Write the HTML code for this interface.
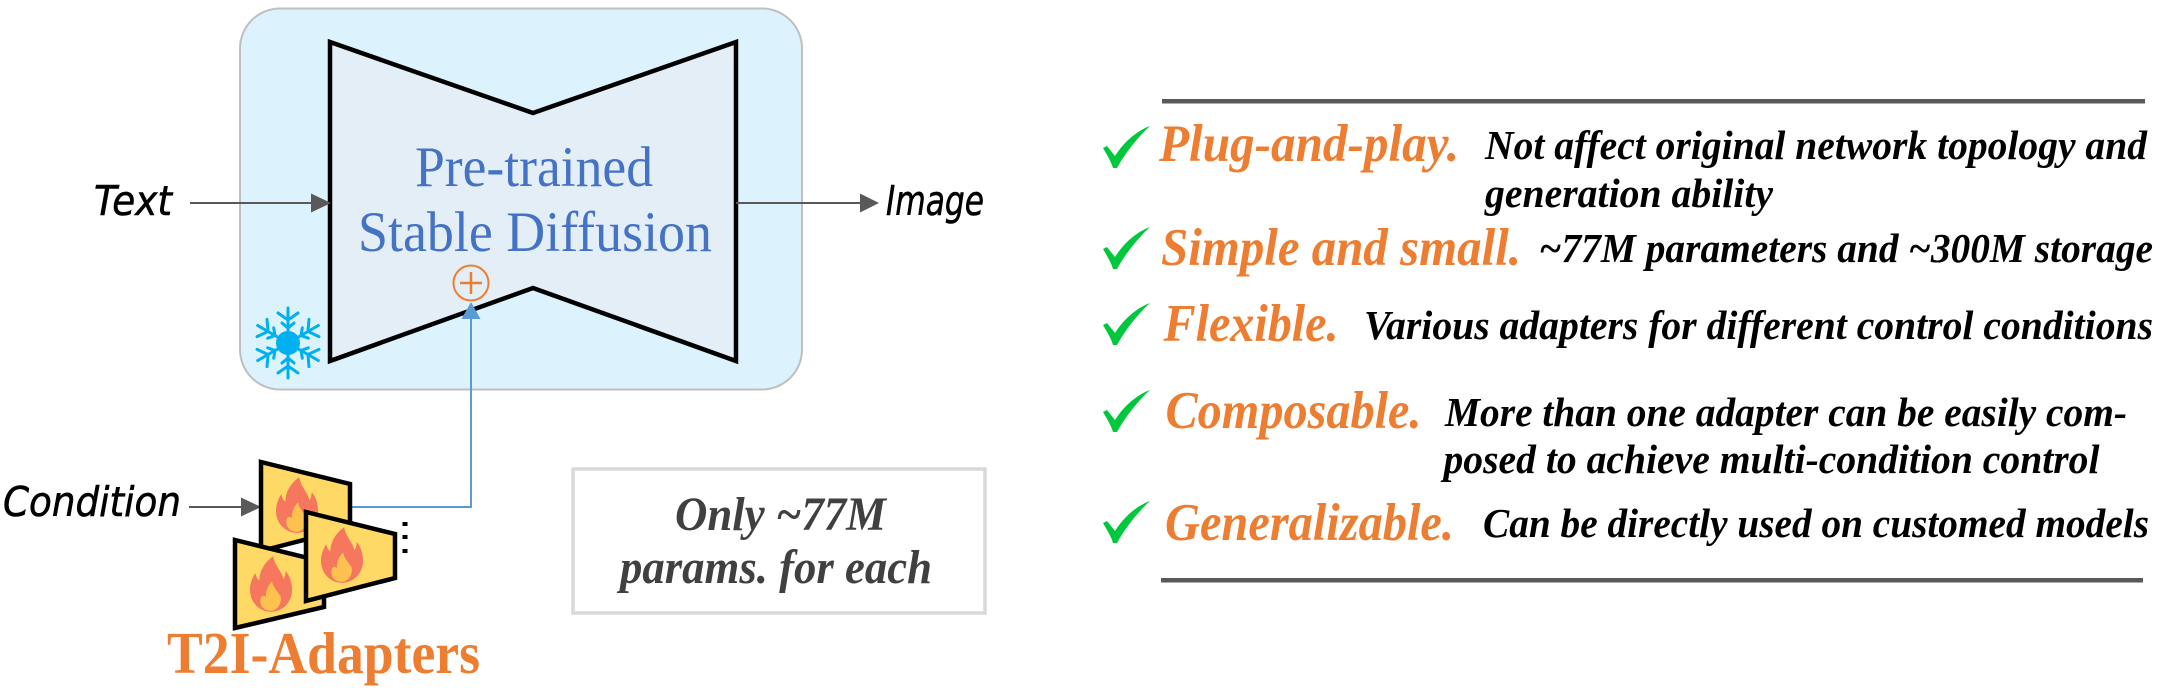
<!DOCTYPE html>
<html><head><meta charset="utf-8"><style>html,body{margin:0;padding:0;background:#fff}svg{display:block}
.h{font-family:"DejaVu Sans",sans-serif;font-style:italic;font-size:41px;fill:#000;stroke:#000;stroke-width:.6px}
.s{font-family:"Liberation Serif",serif}
.o{font-family:"Liberation Serif",serif;font-weight:bold;font-style:italic;font-size:53px;fill:#ed7d31}
.d{font-family:"Liberation Serif",serif;font-weight:bold;font-style:italic;font-size:41px;fill:#000}
.b{font-family:"Liberation Serif",serif;font-weight:bold;font-style:italic;font-size:48px;fill:#404040}
</style></head><body>
<svg xmlns="http://www.w3.org/2000/svg" width="2168" height="690" viewBox="0 0 2168 690">
<defs>
<symbol id="fl" viewBox="0 0 40 53" overflow="visible"><path fill="#f4775e" d="M22 0C24 10 30 14 32 22C33 20 34 17 34 14C38 19 40 25 40 32C40 44 31 53 20 53C9 53 0 44 0 32C0 26 2 21 5 16C6 20 7 22 9 23C9 14 14 6 22 0Z"/><path fill="#fdc150" d="M21 24C22 30 26 33 29 38C31 44 26 52 20 52C13 52 9 47 10 41C11 37 13 37 15 39C15 33 17 28 21 24Z"/></symbol>
<symbol id="ck" viewBox="0 0 47 43" overflow="visible"><path fill="#00c83c" d="M0 22L4 20L12 30C20 17 33 5 47 0C35 11 22 27 14 42L10 42C8 35 4 29 0 22Z"/></symbol>
<g id="arm" stroke="#00b0f0" stroke-width="3" fill="none" stroke-linecap="round"><path d="M0-10V-35M-10-30L0-23L10-30M-6-20L0-15L6-20"/></g>
</defs>
<rect x="240" y="8.500" width="562" height="381" rx="40" ry="40" fill="#dcf2fc" stroke="#bfbfbf" stroke-width="2"/>
<polygon points="330,42 533,113 736,42 736,361 533,288 330,361" fill="#e3eef7" stroke="#000" stroke-width="4.500"/>
<text class="s" x="415" y="186" font-size="57" fill="#4472c4" textLength="238" lengthAdjust="spacingAndGlyphs">Pre-trained</text>
<text class="s" x="358" y="251" font-size="57" fill="#4472c4" textLength="354" lengthAdjust="spacingAndGlyphs">Stable Diffusion</text>
<circle cx="471" cy="283" r="17.500" fill="none" stroke="#ed7d31" stroke-width="2"/>
<path d="M460 283H482M471 272V294" stroke="#ed7d31" stroke-width="2.500" fill="none"/>
<path d="M352 507H471V315" fill="none" stroke="#5b9bd5" stroke-width="2"/>
<polygon points="471,302 480.500,319 461.500,319" fill="#5b9bd5"/>
<circle cx="288" cy="343" r="12" fill="#00b0f0"/>
<use href="#arm" transform="translate(288 343)"/><use href="#arm" transform="translate(288 343) rotate(60)"/><use href="#arm" transform="translate(288 343) rotate(120)"/><use href="#arm" transform="translate(288 343) rotate(180)"/><use href="#arm" transform="translate(288 343) rotate(240)"/><use href="#arm" transform="translate(288 343) rotate(300)"/>
<path d="M190 203H312M736 203H862M189 507H242" stroke="#595959" stroke-width="2" fill="none"/>
<polygon points="311,193.500 331,203 311,212.500" fill="#595959"/>
<polygon points="860,193.500 879,203 860,212.500" fill="#595959"/>
<polygon points="241,497.500 261,507 241,516.500" fill="#595959"/>
<text class="h" x="94" y="215" textLength="78" lengthAdjust="spacingAndGlyphs">Text</text>
<text class="h" x="886" y="215" textLength="98" lengthAdjust="spacingAndGlyphs">Image</text>
<text class="h" x="3" y="516" textLength="178" lengthAdjust="spacingAndGlyphs">Condition</text>
<g stroke="#000" stroke-width="4.500" fill="#ffd966">
<polygon points="261,462 350,484 350,528 261,551"/>
<use href="#fl" x="276" y="477" width="42" height="56" stroke="none"/>
<polygon points="235,540 324,562 324,607 235,628"/>
<use href="#fl" x="250" y="556" width="42" height="56" stroke="none"/>
<polygon points="306,512 395,534 395,578 306,601"/>
<use href="#fl" x="321" y="527" width="42" height="56" stroke="none"/>
</g>
<rect x="402.500" y="522" width="5" height="4" fill="#000"/><rect x="402.500" y="535" width="5" height="4" fill="#000"/><rect x="402.500" y="549" width="5" height="4" fill="#000"/>
<text class="s" x="167" y="673" font-size="59" font-weight="bold" fill="#ed7d31" textLength="313" lengthAdjust="spacingAndGlyphs">T2I-Adapters</text>
<rect x="573" y="469" width="412" height="144" fill="#fff" stroke="#d9d9d9" stroke-width="3.500"/>
<text class="b" x="675" y="530" textLength="211" lengthAdjust="spacingAndGlyphs">Only ~77M</text>
<text class="b" x="620" y="583" textLength="312" lengthAdjust="spacingAndGlyphs">params. for each</text>
<rect x="1162" y="99" width="983" height="4.500" fill="#595959"/>
<rect x="1161" y="578" width="982" height="4.500" fill="#595959"/>
<use href="#ck" x="1103" y="126" width="47" height="43"/>
<use href="#ck" x="1103" y="227" width="47" height="43"/>
<use href="#ck" x="1103" y="303" width="47" height="43"/>
<use href="#ck" x="1103" y="390" width="47" height="43"/>
<use href="#ck" x="1103" y="501" width="47" height="43"/>
<text class="o" x="1159" y="161" textLength="300" lengthAdjust="spacingAndGlyphs">Plug-and-play.</text>
<text class="o" x="1161" y="265" textLength="360" lengthAdjust="spacingAndGlyphs">Simple and small.</text>
<text class="o" x="1163.500" y="341" textLength="175" lengthAdjust="spacingAndGlyphs">Flexible.</text>
<text class="o" x="1165.500" y="428" textLength="256" lengthAdjust="spacingAndGlyphs">Composable.</text>
<text class="o" x="1165" y="540" textLength="289" lengthAdjust="spacingAndGlyphs">Generalizable.</text>
<text class="d" x="1485" y="159" textLength="662" lengthAdjust="spacingAndGlyphs">Not affect original network topology and</text>
<text class="d" x="1485" y="207" textLength="288" lengthAdjust="spacingAndGlyphs">generation ability</text>
<text class="d" x="1539" y="262" textLength="614" lengthAdjust="spacingAndGlyphs">~77M parameters and ~300M storage</text>
<text class="d" x="1364" y="339" textLength="789" lengthAdjust="spacingAndGlyphs">Various adapters for different control conditions</text>
<text class="d" x="1445" y="426" textLength="682" lengthAdjust="spacingAndGlyphs">More than one adapter can be easily com-</text>
<text class="d" x="1443.500" y="473" textLength="656" lengthAdjust="spacingAndGlyphs">posed to achieve multi-condition control</text>
<text class="d" x="1483" y="537" textLength="666" lengthAdjust="spacingAndGlyphs">Can be directly used on customed models</text>
</svg></body></html>
